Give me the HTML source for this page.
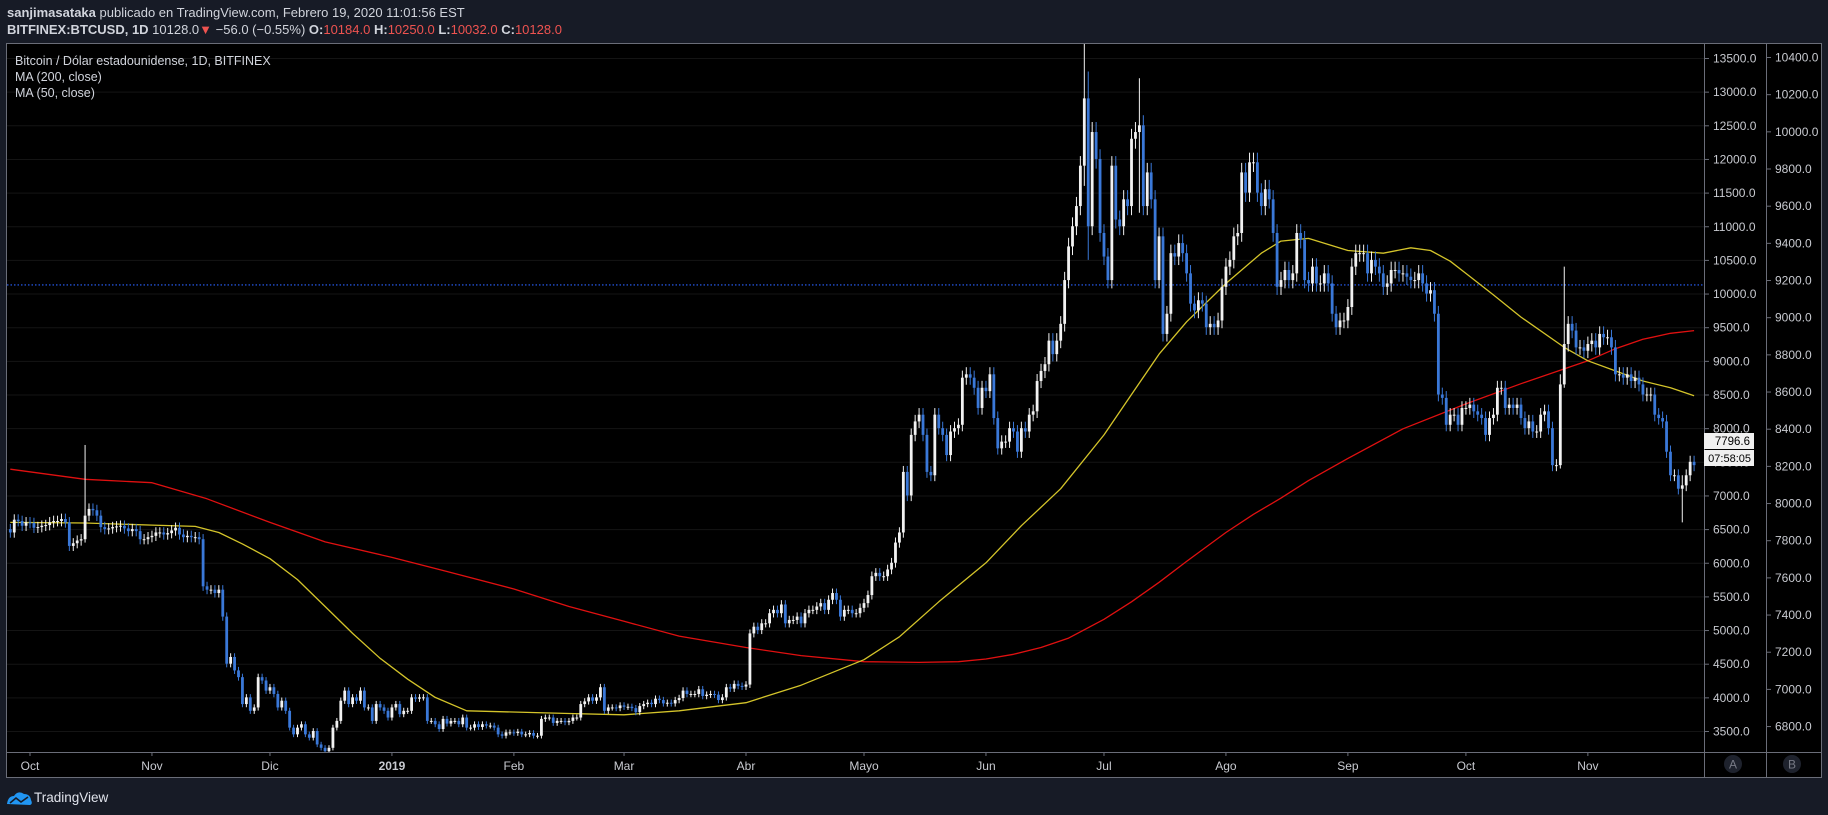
<!DOCTYPE html>
<html><head><meta charset="utf-8"><style>
html,body{margin:0;padding:0;background:#171b26;width:1828px;height:815px;overflow:hidden}
svg{display:block}
text{font-family:"Liberation Sans",sans-serif}
</style></head><body>
<svg id="chart" width="1828" height="815" xmlns="http://www.w3.org/2000/svg">
<rect x="0" y="0" width="1828" height="815" fill="#171b26"/>
<g>
<text x="7" y="17" font-size="13" fill="#d1d4dc"><tspan font-weight="bold">sanjimasataka</tspan> publicado en TradingView.com, Febrero 19, 2020 11:01:56 EST</text>
<text x="7" y="34" font-size="13" fill="#d1d4dc"><tspan font-weight="bold">BITFINEX:BTCUSD, 1D</tspan>  10128.0<tspan fill="#ef5350">▼</tspan> −56.0 (−0.55%) <tspan font-weight="bold">O:</tspan><tspan fill="#ef5350">10184.0</tspan> <tspan font-weight="bold">H:</tspan><tspan fill="#ef5350">10250.0</tspan> <tspan font-weight="bold">L:</tspan><tspan fill="#ef5350">10032.0</tspan> <tspan font-weight="bold">C:</tspan><tspan fill="#ef5350">10128.0</tspan></text>
</g>
<rect x="6.5" y="43.5" width="1815" height="734" fill="#000" stroke="#6a6d78" stroke-width="1"/>
<g id="grid"></g>
<g id="plot"></g>
<line x1="7" y1="752.5" x2="1821" y2="752.5" stroke="#6a6d78"/>
<line x1="1704.5" y1="44" x2="1704.5" y2="777" stroke="#6a6d78"/>
<line x1="1766.5" y1="44" x2="1766.5" y2="777" stroke="#6a6d78"/>
<g id="axes"></g>
<g>
<text x="15" y="65" font-size="12.5" fill="#d1d4dc">Bitcoin / Dólar estadounidense, 1D, BITFINEX</text>
<text x="15" y="81" font-size="12.5" fill="#d1d4dc">MA (200, close)</text>
<text x="15" y="97" font-size="12.5" fill="#d1d4dc">MA (50, close)</text>
</g>
<g>
<rect x="1704" y="433" width="50" height="16" fill="#f0f0f0"/>
<text x="1750" y="445" font-size="11.5" fill="#000" text-anchor="end">7796.6</text>
<rect x="1704" y="450" width="50" height="16" fill="#f0f0f0"/>
<text x="1751" y="462" font-size="11" fill="#000" text-anchor="end">07:58:05</text>
</g>
<g>
<circle cx="1733" cy="764" r="9" fill="#1e222d"/>
<text x="1733" y="768.5" font-size="12" fill="#787b86" text-anchor="middle">A</text>
<circle cx="1792" cy="764" r="9" fill="#1e222d"/>
<text x="1792" y="768.5" font-size="12" fill="#787b86" text-anchor="middle">B</text>
</g>
<g>
<path d="M7 804 Q8 796 14 796 Q18 790 24 794 Q30 794 31 800 Q33 804 30 805 Z" fill="#2196f3"/>
<polyline points="10,803 16,798 21,802 28,797" fill="none" stroke="#171b26" stroke-width="1.6"/>
<text x="34" y="802" font-size="13.5" fill="#e0e3eb">TradingView</text>
</g>
</svg>
<script>
const startDate = '2018-09-26';
const closes = [
6450,6640,6620,6550,6600,
6590,6520,6530,6550,6560,6600,6620,6620,6650,6600,6250,6290,6330,6350,6700,6800,6780,6700,6530,6500,6510,6530,6540,6550,6510,6470,6500,6470,6350,6350,6380,
6400,6450,6450,6420,6440,6480,6520,6420,6380,6400,6380,6380,6350,5650,5600,5600,5550,5600,5200,4500,4600,4400,4300,3900,4000,3800,3850,4300,4250,4100,
4150,4050,3850,3950,3800,3550,3450,3550,3600,3450,3400,3500,3300,3250,3200,3250,3550,3650,3950,4100,3900,4000,3950,4100,3850,3850,3650,3900,3850,3800,3700,
3850,3900,3750,3800,3800,4000,3980,4000,4000,3650,3650,3600,3530,3680,3610,3650,3650,3600,3700,3550,3550,3600,3560,3600,3580,3580,3550,3450,3430,3480,3480,
3470,3490,3450,3450,3470,3430,3430,3680,3700,3700,3620,3650,3650,3630,3650,3700,3700,3900,3940,4000,3950,4000,4150,3800,3850,3850,3840,3880,
3860,3860,3840,3780,3870,3900,3920,3900,3980,3960,3910,3920,3910,3960,3990,4100,4050,4050,4050,4120,4020,4040,4050,4040,3960,4000,4150,4130,4200,4170,4160,
4190,4950,5050,5000,5100,5100,5250,5300,5250,5380,5100,5150,5150,5200,5100,5250,5300,5300,5350,5400,5300,5450,5550,5450,5200,5300,5300,5250,5250,5330,
5400,5520,5800,5850,5800,5800,5900,6000,6300,6450,7350,7000,7900,8100,8200,7900,7350,7300,8200,8000,7900,7600,7950,8000,8050,8750,8800,8750,8600,8300,8600,
8550,8800,8150,7700,7800,7800,8000,7950,7650,8000,7950,8200,8250,8700,8850,8950,9300,9100,9300,9550,10200,10700,11000,11300,11900,12900,11000,12400,12000,10900,
10550,10200,11900,11100,11000,11400,11300,12300,12400,12500,11300,11800,11400,10200,10850,9400,9700,10600,10550,10750,10600,10300,9850,9750,9900,9850,9500,9550,9500,9600,10100,
10400,10500,10850,10900,11800,11500,11950,11950,11500,11300,11550,11400,10900,10100,10200,10350,10200,10300,10900,10800,10200,10150,10400,10150,10150,10300,10150,9700,9500,9600,9600,
9800,10400,10600,10600,10600,10300,10500,10400,10300,10100,10150,10350,10350,10300,10300,10250,10200,10200,10300,10150,10000,10050,9700,8500,8450,8050,8200,8200,8050,8300,
8300,8350,8250,8200,8150,7900,8150,8200,8600,8600,8300,8350,8300,8350,8150,8000,8100,7950,7950,8200,8250,8000,7450,7450,8650,9250,9550,9450,9200,9200,9150,
9250,9300,9200,9400,9350,9350,9200,8800,8800,8750,8800,8700,8750,8650,8500,8500,8500,8200,8150,8100,7650,7300,7300,7100,7150,7300,7500,7450
];
const spikeDates = ['2018-10-15','2019-06-26','2019-07-10','2019-10-26','2019-11-25','2019-06-27','2019-10-25'];
const spikeHighs = [7750,13800,13200,10400,7300,13300,8800];
const spikeLows  = [6300,11600,11200,8600,6600,10500,7400];
const ma200Dates = ['2018-09-26','2018-10-15','2018-11-01','2018-11-15','2018-12-01','2018-12-15','2019-01-01','2019-01-15','2019-02-01','2019-02-15','2019-03-01','2019-03-15','2019-04-01','2019-04-15','2019-05-01','2019-05-15','2019-05-25','2019-06-01','2019-06-08','2019-06-15','2019-06-22','2019-07-01','2019-07-08','2019-07-15','2019-07-22','2019-08-01','2019-08-08','2019-08-15','2019-08-22','2019-09-01','2019-09-15','2019-10-01','2019-10-15','2019-11-01','2019-11-08','2019-11-15','2019-11-22','2019-11-28'];
const ma200Values = [7390,7240,7190,6950,6600,6310,6080,5870,5610,5350,5130,4910,4740,4620,4530,4520,4530,4570,4640,4740,4880,5160,5420,5710,6020,6450,6720,6960,7220,7550,7990,8360,8660,9000,9180,9320,9410,9450];
const ma50Dates = ['2018-09-26','2018-10-15','2018-11-01','2018-11-12','2018-11-18','2018-11-24','2018-12-01','2018-12-08','2018-12-15','2018-12-22','2018-12-29','2019-01-05','2019-01-12','2019-01-20','2019-02-15','2019-03-01','2019-03-15','2019-04-01','2019-04-15','2019-05-01','2019-05-10','2019-05-20','2019-06-01','2019-06-10','2019-06-20','2019-07-01','2019-07-08','2019-07-15','2019-07-22','2019-08-01','2019-08-06','2019-08-10','2019-08-15','2019-08-22','2019-09-01','2019-09-10','2019-09-17','2019-09-22','2019-09-27','2019-10-01','2019-10-08','2019-10-15','2019-10-26','2019-11-01','2019-11-08','2019-11-15','2019-11-22','2019-11-28'];
const ma50Values = [6600,6590,6560,6540,6450,6280,6060,5750,5350,4950,4580,4270,4000,3800,3760,3740,3800,3920,4180,4560,4900,5420,6000,6550,7100,7900,8500,9100,9580,10150,10400,10600,10780,10820,10640,10600,10680,10640,10480,10300,9980,9650,9200,9000,8850,8700,8600,8480];
const priceTicks = [3500,4000,4500,5000,5500,6000,6500,7000,7500,8000,8500,9000,9500,10000,10500,11000,11500,12000,12500,13000,13500];
const rightTicks = [6800,7000,7200,7400,7600,7800,8000,8200,8400,8600,8800,9000,9200,9400,9600,9800,10000,10200,10400];
const monthLabels = ['Oct','Nov','Dic','2019','Feb','Mar','Abr','Mayo','Jun','Jul','Ago','Sep','Oct','Nov'];
const monthDates = ['2018-10-01','2018-11-01','2018-12-01','2019-01-01','2019-02-01','2019-03-01','2019-04-01','2019-05-01','2019-06-01','2019-07-01','2019-08-01','2019-09-01','2019-10-01','2019-11-01'];
const lastPrice = 10128;

const NS='http://www.w3.org/2000/svg';
const day0=Date.UTC(2018,8,26);
function idx(d){const p=d.split('-');return Math.round((Date.UTC(+p[0],+p[1]-1,+p[2])-day0)/86400000);}
function x(i){return 30+(i-5)*3.934;}
function y(p){return 58+(13500-p)*0.0673;}
function yR(v){return 57+(10400-v)*0.18585;}
function mk(tag,attrs,parent){const e=document.createElementNS(NS,tag);for(const k in attrs)e.setAttribute(k,attrs[k]);parent.appendChild(e);return e;}
const grid=document.getElementById('grid'),plot=document.getElementById('plot'),axes=document.getElementById('axes');

priceTicks.forEach(p=>{
  const gl=mk('line',{x1:7,x2:1704,y1:y(p)+0.5,y2:y(p)+0.5,stroke:'#141414'},grid);
  
  
  const tk=mk('line',{x1:1704,x2:1709,y1:y(p)+0.5,y2:y(p)+0.5,stroke:'#6a6d78'},axes);
  
  
  const t=mk('text',{x:1713,y:y(p)+4.5,'font-size':12,fill:'#c8cad0'},axes);
  t.textContent=p.toFixed(1);
  
  
});
rightTicks.forEach(v=>{
  const tk=mk('line',{x1:1766,x2:1771,y1:yR(v)+0.5,y2:yR(v)+0.5,stroke:'#6a6d78'},axes);
  
  
  const t=mk('text',{x:1775,y:yR(v)+4.5,'font-size':12,fill:'#c8cad0'},axes);
  t.textContent=v.toFixed(1);
  
  
});
monthLabels.forEach((m,k)=>{
  const xi=x(idx(monthDates[k]));
  const tk=mk('line',{x1:xi,x2:xi,y1:752,y2:756,stroke:'#6a6d78'},axes);
  
  
  const t=mk('text',{x:xi,y:770,'font-size':12,fill:'#c8cad0','text-anchor':'middle','font-weight':m==='2019'?'bold':'normal'},axes);
  t.textContent=m;
  
  
});

const clip=mk('clipPath',{id:'pc'},document.getElementById('chart'));
mk('rect',{x:7,y:44,width:1697,height:708},clip);
plot.setAttribute('clip-path','url(#pc)');

const lp=mk('line',{x1:7,x2:1704,y1:y(lastPrice),y2:y(lastPrice),stroke:'#2962ff','stroke-dasharray':'1.5,2','stroke-width':1.2},plot);



function maLine(dates,vals,color,name){
  const pts=dates.map((d,k)=>x(idx(d)).toFixed(1)+','+y(vals[k]).toFixed(1)).join(' ');
  const pl=mk('polyline',{points:pts,fill:'none',stroke:color,'stroke-width':1.3,'stroke-linejoin':'round'},plot);
  
  
}
maLine(ma200Dates,ma200Values,'#e01010','ma200-line');
maLine(ma50Dates,ma50Values,'#d4c42a','ma50-line');

const spikeIdx=spikeDates.map(idx);
let prev=6500;
closes.forEach((c,i)=>{
  const o=prev;prev=c;
  const up=c>=o;
  const col=up?'#f2f2f2':'#3a78d8';
  let hi=Math.max(o,c)*1.012,lo=Math.min(o,c)*0.988;
  const s=spikeIdx.indexOf(i);
  if(s>=0){hi=spikeHighs[s];lo=spikeLows[s];}
  const xi=x(i);
  const w=mk('line',{x1:xi,x2:xi,y1:y(hi),y2:y(lo),stroke:col,'stroke-width':1},plot);
  
  
  const top=y(Math.max(o,c)),bot=y(Math.min(o,c));
  const b=mk('rect',{x:xi-1.4,y:top,width:2.8,height:Math.max(1,bot-top),fill:col},plot);
  
  
});
</script>
</body></html>
